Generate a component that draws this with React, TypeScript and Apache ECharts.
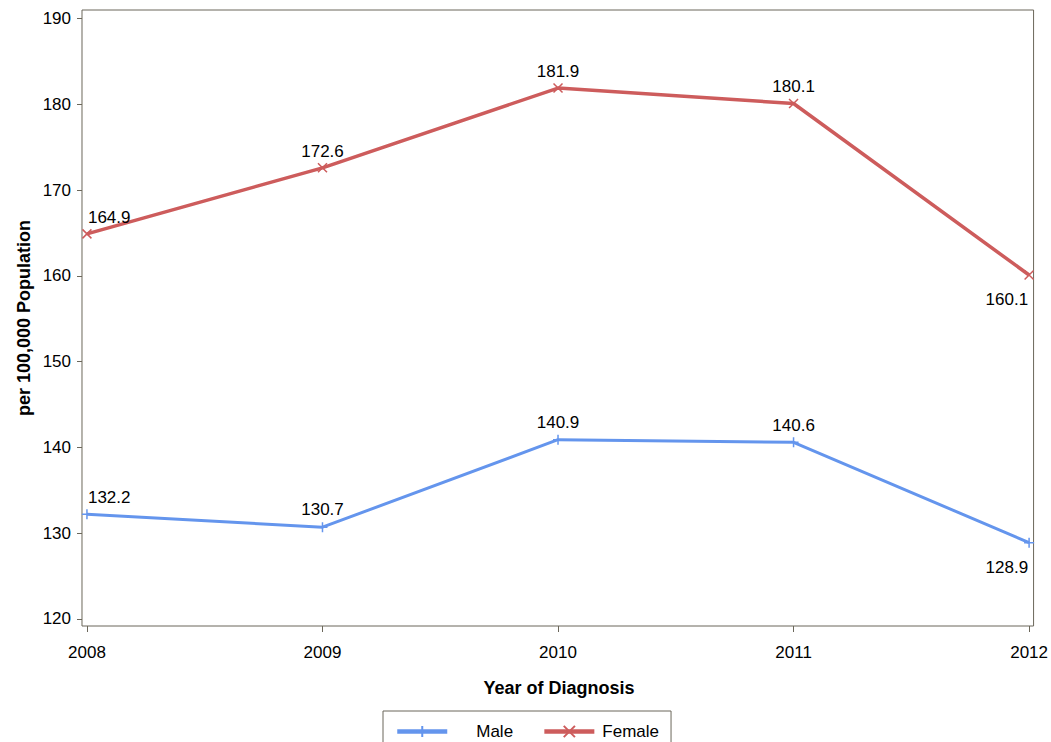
import React, { useEffect, useRef } from "react";
import * as echarts from "echarts";

const years = [2008, 2009, 2010, 2011, 2012];
const maleValues = [132.2, 130.7, 140.9, 140.6, 128.9];
const femaleValues = [164.9, 172.6, 181.9, 180.1, 160.1];
const yTicks = [120, 130, 140, 150, 160, 170, 180, 190];
const seriesNames = ["Male", "Female"];

const FONT = '"Liberation Sans", Arial, sans-serif';
const MALE_COLOR = "#6495ED";
const FEMALE_COLOR = "#CD5C5C";
const FRAME = "#6b675a";

const plusPath = "path://M5,0L5,10M0,5L10,5";
const crossPath = "path://M0,0L10,10M10,0L0,10";

function labelFor(i: number, n: number) {
  const base = { show: true, color: "#000", fontSize: 17, fontFamily: FONT };
  if (i === 0) return { ...base, position: "top", align: "left", distance: 3, offset: [1, 0] };
  if (i === n - 1) return { ...base, position: "bottom", align: "right", distance: 11, offset: [-1, 0] };
  return { ...base, position: "top", distance: 3 };
}

function buildData(values: number[]) {
  return values.map((v, i) => ({ value: [years[i], v], label: labelFor(i, values.length) }));
}

export default function App() {
  const ref = useRef<HTMLDivElement>(null);
  useEffect(() => {
    if (!ref.current) return;
    const chart = echarts.init(ref.current, null, { renderer: "svg" });
    chart.setOption({
      animation: false,
      backgroundColor: "#fff",
      textStyle: { fontFamily: FONT },
      grid: {
        left: 82,
        right: 15,
        top: 10,
        bottom: 116,
        show: true,
        borderColor: FRAME,
        borderWidth: 1,
      },
      xAxis: {
        type: "value",
        min: 2007.979,
        max: 2012.019,
        axisLine: { show: false },
        splitLine: { show: false },
        axisTick: { show: true, customValues: years, length: 6, lineStyle: { color: FRAME } },
        axisLabel: {
          customValues: years,
          fontSize: 17,
          color: "#000",
          margin: 18,
          fontFamily: FONT,
          formatter: (v: number) => String(Math.round(v)),
        },
      },
      yAxis: {
        type: "value",
        min: 119.18,
        max: 191.0,
        axisLine: { show: false },
        splitLine: { show: false },
        axisTick: { show: true, customValues: yTicks, length: 5, lineStyle: { color: FRAME } },
        axisLabel: {
          customValues: yTicks,
          fontSize: 17,
          color: "#000",
          margin: 11,
          fontFamily: FONT,
        },
      },
      legend: {
        left: 383,
        top: 711,
        padding: [12, 12, 12, 12],
        borderColor: FRAME,
        borderWidth: 1,
        itemWidth: 50,
        itemHeight: 14,
        itemGap: 29,
        textStyle: { fontSize: 17, color: "#000", fontFamily: FONT },
        data: [
          {
            name: seriesNames[0],
            textStyle: { padding: [0, 0, 0, 24] },
            lineStyle: { width: 4.5 },
          },
          {
            name: seriesNames[1],
            textStyle: { padding: [0, 0, 0, 3] },
            lineStyle: { width: 4.5 },
          },
        ],
      },
      graphic: [
        {
          type: "text",
          x: 24,
          y: 318,
          rotation: Math.PI / 2,
          style: {
            text: "per 100,000 Population",
            x: 0,
            y: 0,
            align: "center",
            verticalAlign: "middle",
            font: `bold 18px ${FONT}`,
            fill: "#000",
          },
        },
        {
          type: "text",
          x: 559,
          y: 688,
          style: {
            text: "Year of Diagnosis",
            x: 0,
            y: 0,
            align: "center",
            verticalAlign: "middle",
            font: `bold 18px ${FONT}`,
            fill: "#000",
          },
        },
      ],
      series: [
        {
          name: seriesNames[0],
          type: "line",
          data: buildData(maleValues),
          symbol: plusPath,
          symbolSize: 10,
          lineStyle: { color: MALE_COLOR, width: 3 },
          itemStyle: { color: MALE_COLOR, borderColor: MALE_COLOR, borderWidth: 1.5 },
        },
        {
          name: seriesNames[1],
          type: "line",
          data: buildData(femaleValues),
          symbol: crossPath,
          symbolSize: 9,
          lineStyle: { color: FEMALE_COLOR, width: 3.5 },
          itemStyle: { color: FEMALE_COLOR, borderColor: FEMALE_COLOR, borderWidth: 1.5 },
        },
      ],
    });
    return () => chart.dispose();
  }, []);
  return <div ref={ref} style={{ width: 1051, height: 742, position: "absolute", left: 0, top: 0 }} />;
}
